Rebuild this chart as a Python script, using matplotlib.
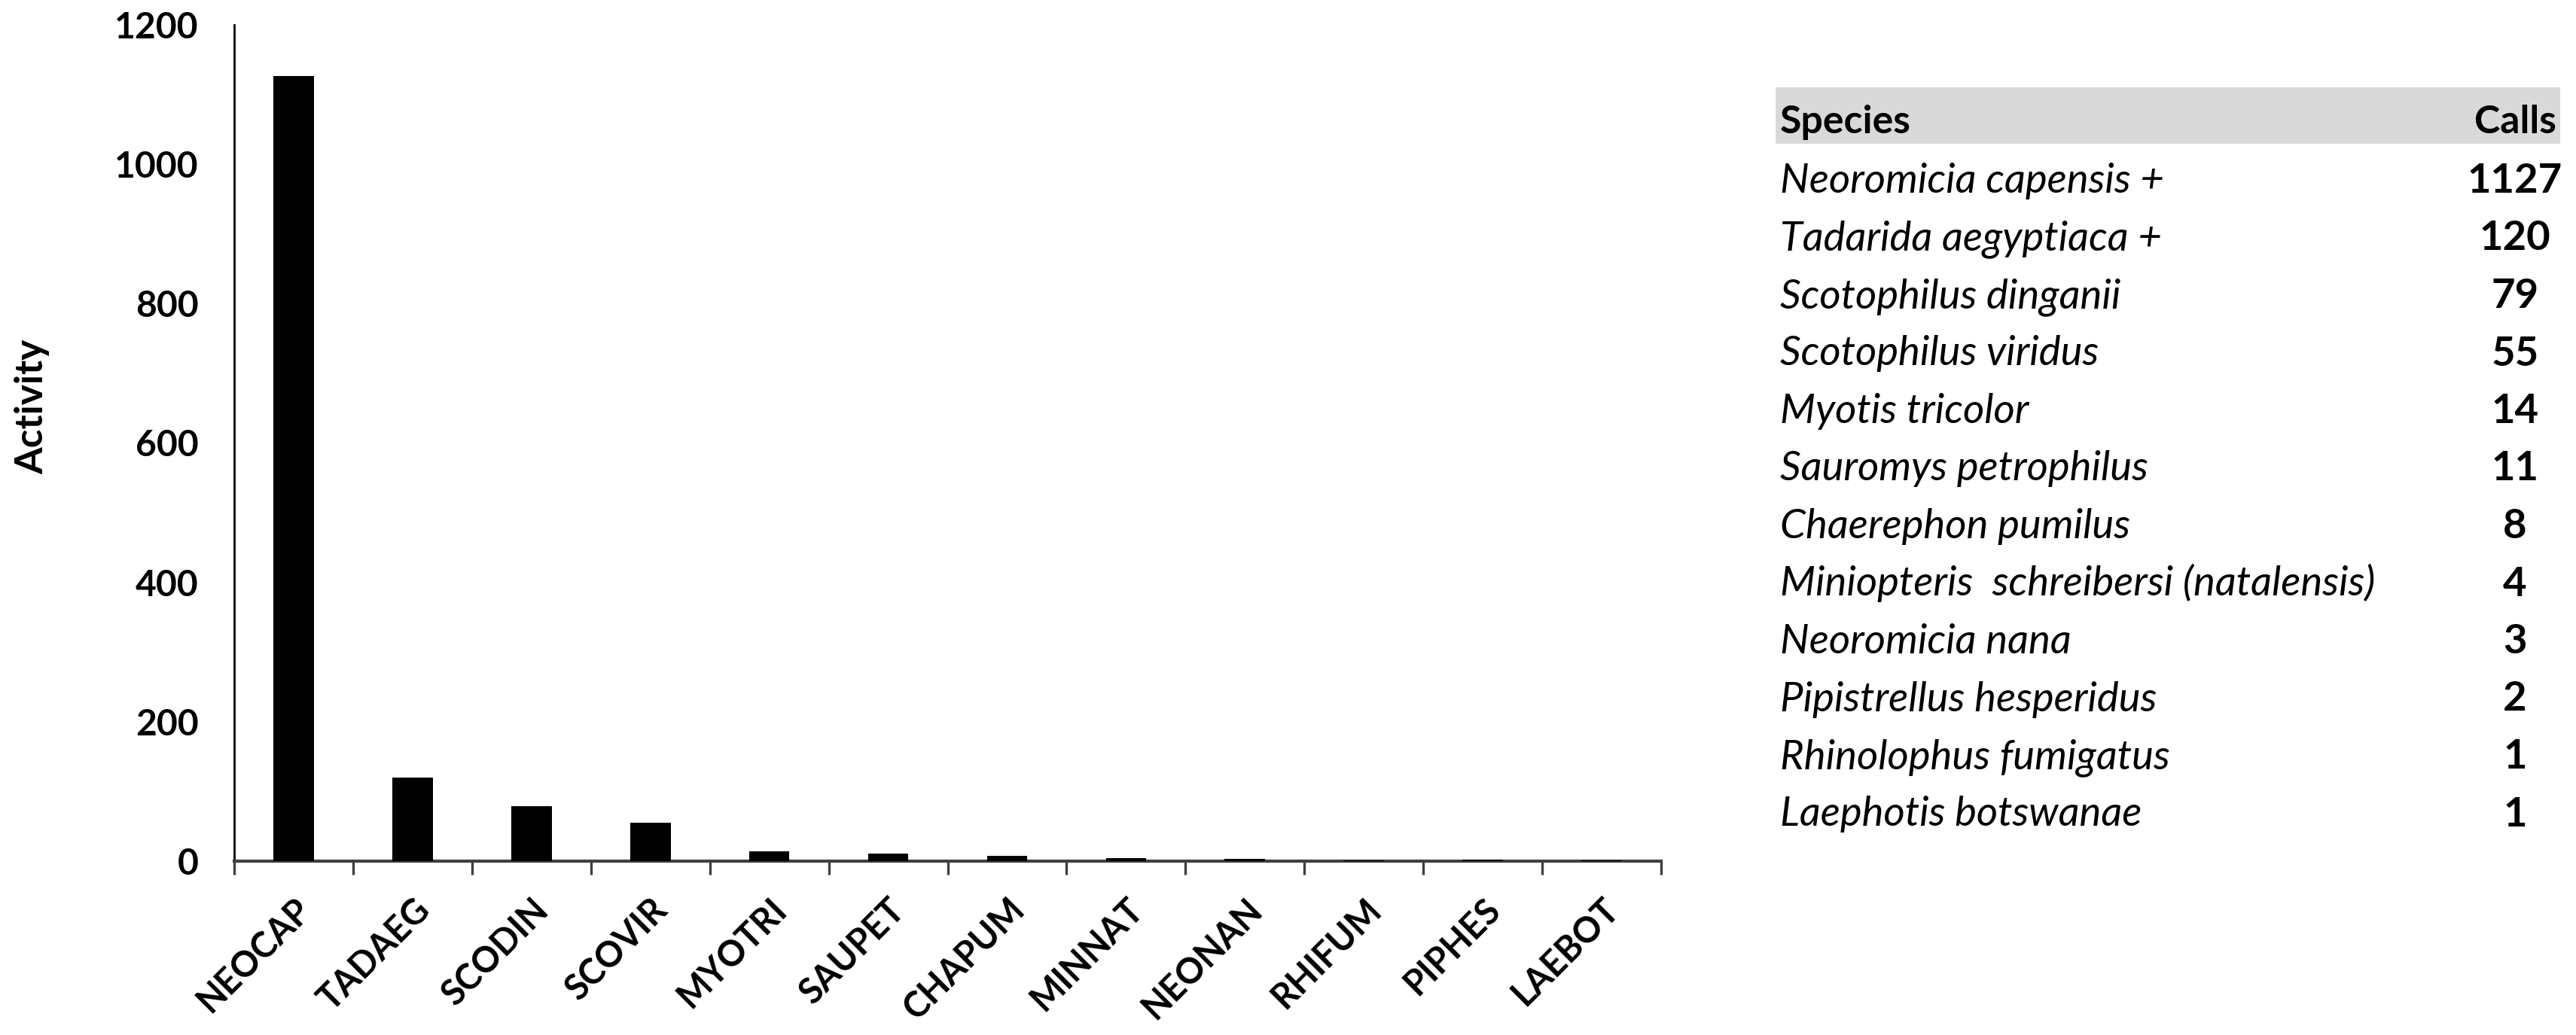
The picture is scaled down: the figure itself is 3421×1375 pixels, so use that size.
import matplotlib
matplotlib.use("Agg")
import matplotlib.pyplot as plt
from matplotlib.patches import Rectangle
from matplotlib.font_manager import FontProperties
from matplotlib.textpath import TextPath
import numpy as np

# ---- data ----
codes = ["NEOCAP", "TADAEG", "SCODIN", "SCOVIR", "MYOTRI", "SAUPET",
         "CHAPUM", "MINNAT", "NEONAN", "RHIFUM", "PIPHES", "LAEBOT"]
activity = [1127, 120, 79, 55, 14, 11, 8, 4, 3, 1, 2, 1]
y_ticks = [0, 200, 400, 600, 800, 1000, 1200]

species = ["Neoromicia capensis +", "Tadarida aegyptiaca +", "Scotophilus dinganii",
           "Scotophilus viridus", "Myotis tricolor", "Sauromys petrophilus",
           "Chaerephon pumilus", "Miniopteris  schreibersi (natalensis)",
           "Neoromicia nana", "Pipistrellus hesperidus", "Rhinolophus fumigatus",
           "Laephotis botswanae"]
calls = [1127, 120, 79, 55, 14, 11, 8, 4, 3, 2, 1, 1]
table_header = ["Species", "Calls"]

FONT = "Lato"
W, H, DPI = 3421, 1375, 200


def size_for_width(text, target_px, **kw):
    """font size (pt) at which `text` is target_px wide at DPI"""
    fp = FontProperties(family=FONT, size=10, **kw)
    w = TextPath((0, 0), text, prop=fp).get_extents().width  # in points at size 10
    return 10 * (target_px * 72 / DPI) / w


tick_fs = size_for_width("1200", 107, weight="bold")
row_fs = size_for_width("Neoromicia capensis +", 505, style="italic")

fig = plt.figure(figsize=(W / DPI, H / DPI), dpi=DPI)


def fx(px):
    return px / W


def fy(py):
    return 1 - py / H


ax = fig.add_axes([fx(311), fy(1144), fx(2206) - fx(311), fy(33) - fy(1144)])
x = np.arange(len(codes))
ax.bar(x, activity, width=0.34, color="black", edgecolor="none", zorder=4)

ax.set_xlim(-0.5, len(codes) - 0.5)
ax.set_ylim(0, 1200)
ax.set_yticks(y_ticks)
ax.set_yticklabels([str(v) for v in y_ticks], fontfamily=FONT, fontweight="bold", fontsize=tick_fs)
ax.tick_params(axis="y", length=0, pad=17)

# category boundary ticks (major) and centered labels (minor)
ax.set_xticks(np.arange(-0.5, len(codes), 1.0))
ax.set_xticklabels([])
ax.set_xticks(x, minor=True)
ax.set_xticklabels(codes, minor=True, rotation=45, ha="right", va="top",
                   rotation_mode="anchor", fontfamily=FONT, fontweight="bold",
                   fontsize=tick_fs - 0.5)
ax.tick_params(axis="x", which="major", length=6.5, width=1.2, color="#404040", direction="out")
ax.tick_params(axis="x", which="minor", length=0, pad=15)

for s in ["top", "right"]:
    ax.spines[s].set_visible(False)
ax.spines["bottom"].set_color("#404040")
ax.spines["bottom"].set_linewidth(1.5)
ax.spines["bottom"].set_zorder(3)
ax.spines["left"].set_color("black")
ax.spines["left"].set_linewidth(1.0)

fig.text(fx(43), fy(540), "Activity", rotation=90, ha="center", va="center",
         fontfamily=FONT, fontweight="bold", fontsize=18.5)

# ---- table ----
fig.patches.append(Rectangle((fx(2358), fy(191)), fx(3400) - fx(2358), fy(116) - fy(191),
                             transform=fig.transFigure, facecolor="#d9d9d9",
                             edgecolor="none", zorder=0))
text_left = fx(2364)
calls_center = fx(3340)
fig.text(text_left, fy(177), table_header[0], ha="left", va="baseline",
         fontfamily=FONT, fontweight="bold", fontsize=row_fs * 0.95)
fig.text(calls_center, fy(177), table_header[1], ha="center", va="baseline",
         fontfamily=FONT, fontweight="bold", fontsize=row_fs * 0.95)
row0, step = 256, 76.5
for i, (sp, c) in enumerate(zip(species, calls)):
    yb = fy(row0 + i * step)
    fig.text(text_left, yb, sp, ha="left", va="baseline", fontfamily=FONT,
             fontstyle="italic", fontsize=row_fs)
    fig.text(calls_center, yb, str(c), ha="center", va="baseline", fontfamily=FONT,
             fontweight="bold", fontsize=row_fs)

fig.savefig("out.png", dpi=DPI, facecolor="white")
